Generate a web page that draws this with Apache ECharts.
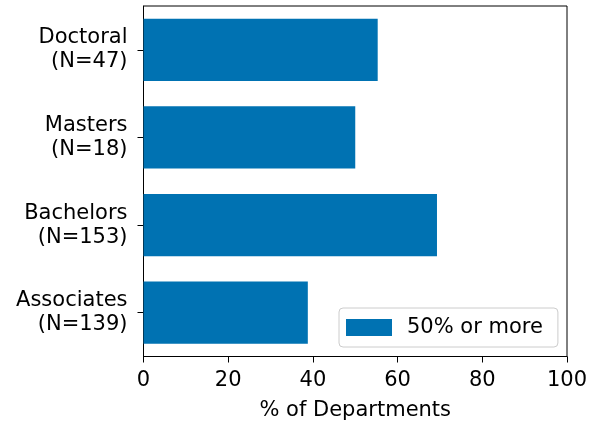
<!DOCTYPE html>
<html>
<head>
<meta charset="utf-8">
<script src="https://cdn.jsdelivr.net/npm/echarts@6/dist/echarts.min.js"></script>
<style>
html,body{margin:0;padding:0;background:#fff;}
#chart{width:598px;height:422px;}
</style>
</head>
<body>
<div id="chart"></div>
<script>
const categories = ['Doctoral\n(N=47)', 'Masters\n(N=18)', 'Bachelors\n(N=153)', 'Associates\n(N=139)'];
const values = [55.3, 50.0, 69.3, 38.8];
const seriesName = '50% or more';
const xTicks = [0, 20, 40, 60, 80, 100];
const xName = '% of Departments';

const FONT = '"DejaVu Sans", sans-serif';
const FS = 21;
const chart = echarts.init(document.getElementById('chart'), null, {renderer: 'canvas'});
chart.setOption({
  animation: false,
  backgroundColor: '#fff',
  textStyle: {fontFamily: FONT},
  grid: {
    left: 143.5, right: 31, top: 6, bottom: 65.5,
    containLabel: false, outerBoundsMode: 'none',
    show: true, borderColor: '#000', borderWidth: 1, backgroundColor: 'transparent'
  },
  legend: {
    data: [seriesName],
    left: 339, top: 308,
    itemWidth: 46, itemHeight: 17,
    padding: [9, 15, 9, 7],
    borderColor: '#cccccc', borderWidth: 1, borderRadius: 4,
    backgroundColor: '#fff',
    icon: 'rect',
    textStyle: {fontFamily: FONT, fontSize: FS, color: '#000', padding: [0, 0, 0, 10]}
  },
  xAxis: {
    type: 'value', min: xTicks[0], max: xTicks[xTicks.length - 1], interval: 20,
    name: xName, nameLocation: 'middle', nameGap: 44,
    nameTextStyle: {fontFamily: FONT, fontSize: FS, color: '#000'},
    axisLine: {show: true, lineStyle: {color: '#000', width: 1}},
    axisTick: {show: true, length: 6, lineStyle: {color: '#000'}},
    axisLabel: {fontFamily: FONT, fontSize: FS, color: '#000', margin: 14},
    splitLine: {show: false}
  },
  yAxis: {
    type: 'category', data: categories, inverse: true,
    axisLine: {show: true, lineStyle: {color: '#000', width: 1}},
    axisTick: {show: true, alignWithLabel: true, length: 6, lineStyle: {color: '#000'}},
    axisLabel: {fontFamily: FONT, fontSize: FS, color: '#000', margin: 16, lineHeight: 24, align: 'right', padding: [6, 0, 0, 0]},
    splitLine: {show: false}
  },
  series: [{
    name: seriesName,
    type: 'bar',
    data: values,
    barCategoryGap: '29%',
    itemStyle: {color: '#0072B2'}
  }]
});
</script>
</body>
</html>
